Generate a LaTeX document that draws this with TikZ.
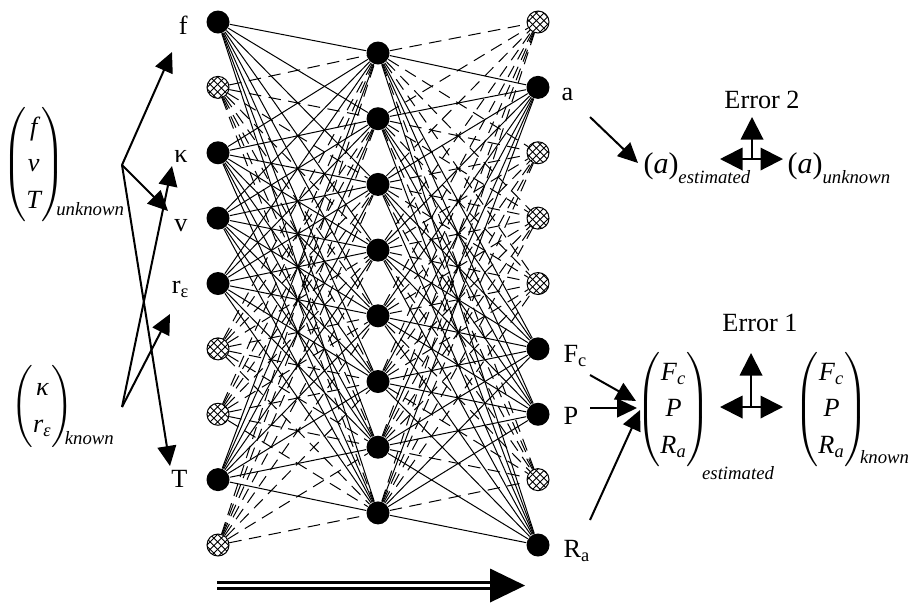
\documentclass[tikz,border=0pt]{standalone}
\usepackage{amsmath}
\usepackage{fontspec}
\setmainfont{Liberation Serif}
\usetikzlibrary{arrows.meta,patterns}
\renewcommand{\arraystretch}{1.16}
\def\ys{65.375}
\def\lowtxt#1#2{\hspace{-3.5pt}\raisebox{#1}{\fontsize{7.5}{9}\selectfont\textit{#2}}}

\begin{document}
\begin{tikzpicture}[x=0.4pt,y=-0.4pt,
    font=\fontsize{10.5}{12.6}\selectfont,
    fnode/.style={circle,fill=black,minimum size=9.2pt,inner sep=0pt},
    hnode/.style={circle,draw,line width=0.4pt,pattern=crosshatch,minimum size=8.8pt,inner sep=0pt},
    wire/.style={line width=0.4pt},
    dwire/.style={line width=0.4pt,dash pattern=on 5pt off 3pt},
    lbl/.style={inner sep=0pt},
    arr/.style={line width=0.8pt,-{Triangle[length=8pt,width=7.5pt]}},
    up/.style={line width=0.8pt,-{Triangle[length=9pt,width=9pt]}},
    both/.style={line width=0.8pt,{Triangle[length=9pt,width=9pt]}-{Triangle[length=9pt,width=9pt]}}]
\useasboundingbox (0,0) rectangle (910,602);
\foreach \j in {0,...,7} \node[fnode] (h\j) at (378,53+65.7*\j) {};
\foreach \i/\sty/\lin in {0/fnode/wire,1/hnode/dwire,2/fnode/wire,3/fnode/wire,4/fnode/wire,
    5/hnode/dwire,6/hnode/dwire,7/fnode/wire,8/hnode/dwire}{
    \node[\sty] (i\i) at (218,22+\ys*\i) {};
    \foreach \j in {0,...,7} \draw[\lin] (i\i) -- (h\j);
}
\foreach \k/\sty/\lin in {0/hnode/dwire,1/fnode/wire,2/hnode/dwire,3/hnode/dwire,4/hnode/dwire,
    5/fnode/wire,6/fnode/wire,7/hnode/dwire,8/fnode/wire}{
    \node[\sty] (o\k) at (538,22+\ys*\k) {};
    \foreach \j in {0,...,7} \draw[\lin] (h\j) -- (o\k);
}

\node[lbl,anchor=base east] (lf) at ([shift={(-30,12)}]i0) {f};
\node[lbl,anchor=base east] (lk) at ([shift={(-30,10)}]i2) {κ};
\node[lbl,anchor=base east] (lv) at ([shift={(-30,13)}]i3) {v};
\node[lbl,anchor=base east] (lr) at ([shift={(-28,10)}]i4) {r\textsubscript{ε}};
\node[lbl,anchor=base east] (lT) at ([shift={(-30,8)}]i7) {T};
\node[lbl,anchor=base west] (la) at ([shift={(23,13)}]o1) {a};
\node[lbl,anchor=base west] (lF) at ([shift={(25,14)}]o5) {F\textsubscript{c}};
\node[lbl,anchor=base west] (lP) at ([shift={(25,10)}]o6) {P};
\node[lbl,anchor=base west] (lR) at ([shift={(25,12)}]o8) {R\textsubscript{a}};

\node[lbl,anchor=base west] (unk) at (2,171.5) {$\begin{pmatrix}\textit{f}\\\textit{v}\\\textit{T}\end{pmatrix}$\lowtxt{-17.4pt}{unknown}};
\node[lbl,anchor=base west] (kno) at (11,413.5) {$\begin{pmatrix}\textit{κ}\\\textit{r}_{\textit{ε}}\end{pmatrix}$\lowtxt{-12.4pt}{known}};
\node[lbl,anchor=base west] (est) at (636,416.5) {$\begin{pmatrix}\textit{F}_{\textit{c}}\\\textit{P}\\\textit{R}_{\textit{a}}\end{pmatrix}$\lowtxt{-25pt}{estimated}};
\node[lbl,anchor=base west] (kn2) at (794,416.5) {$\begin{pmatrix}\textit{F}_{\textit{c}}\\\textit{P}\\\textit{R}_{\textit{a}}\end{pmatrix}$\lowtxt{-18.6pt}{known}};
\node[lbl,anchor=base west] (aest) at (643,173) {{\fontsize{12}{14}\selectfont(\textit{a})}\raisebox{-4pt}{\fontsize{7.5}{9}\selectfont\textit{estimated}}};
\node[lbl,anchor=base west] (aunk) at (787,173) {{\fontsize{12}{14}\selectfont(\textit{a})}\raisebox{-4pt}{\fontsize{7.5}{9}\selectfont\textit{unknown}}};
\node (err2) at (762,100) {Error 2};
\node (err1) at (760,323) {Error 1};

\coordinate (ufork) at (122,165);
\coordinate (kfork) at (122,407);
\coordinate (tf) at (172,52);
\coordinate (tv) at (168,211);
\coordinate (tT) at (170,466);
\coordinate (tk) at (172,166);
\coordinate (tr) at (170,314);
\draw[arr] (ufork) -- (tf);
\draw[arr] (ufork) -- (tv);
\draw[arr] (ufork) -- (tT);
\draw[arr] (kfork) -- (tk);
\draw[arr] (kfork) -- (tr);

\coordinate (sa) at (590,117);
\coordinate (ta) at (638,163);
\coordinate (sF) at (590,375);
\coordinate (sP) at (590,408);
\coordinate (sR) at (590,520);
\coordinate (tF) at (636,401);
\coordinate (tP) at (637,408);
\coordinate (tR) at (640,410);
\draw[arr] (sa) -- (ta);
\draw[arr] (sF) -- (tF);
\draw[arr] (sP) -- (tP);
\draw[arr] (sR) -- (tR);

\coordinate (c2) at (752,159);
\draw[up] (c2) -- ++(0,-42);
\draw[both] ([shift={(-32,0)}]c2) -- ([shift={(31,0)}]c2);
\coordinate (c1) at (751,407);
\draw[up] (c1) -- ++(0,-54);
\draw[both] ([shift={(-31,0)}]c1) -- ([shift={(32,0)}]c1);

\coordinate (flowS) at (217,585.5);
\coordinate (flowE) at (525,585.5);
\draw[double,double distance=1.1pt,line width=1.2pt] (flowS) -- ([shift={(-30,0)}]flowE);
\fill (flowE) -- ++(-35,-17) -- ++(0,34) -- cycle;
\end{tikzpicture}
\end{document}
